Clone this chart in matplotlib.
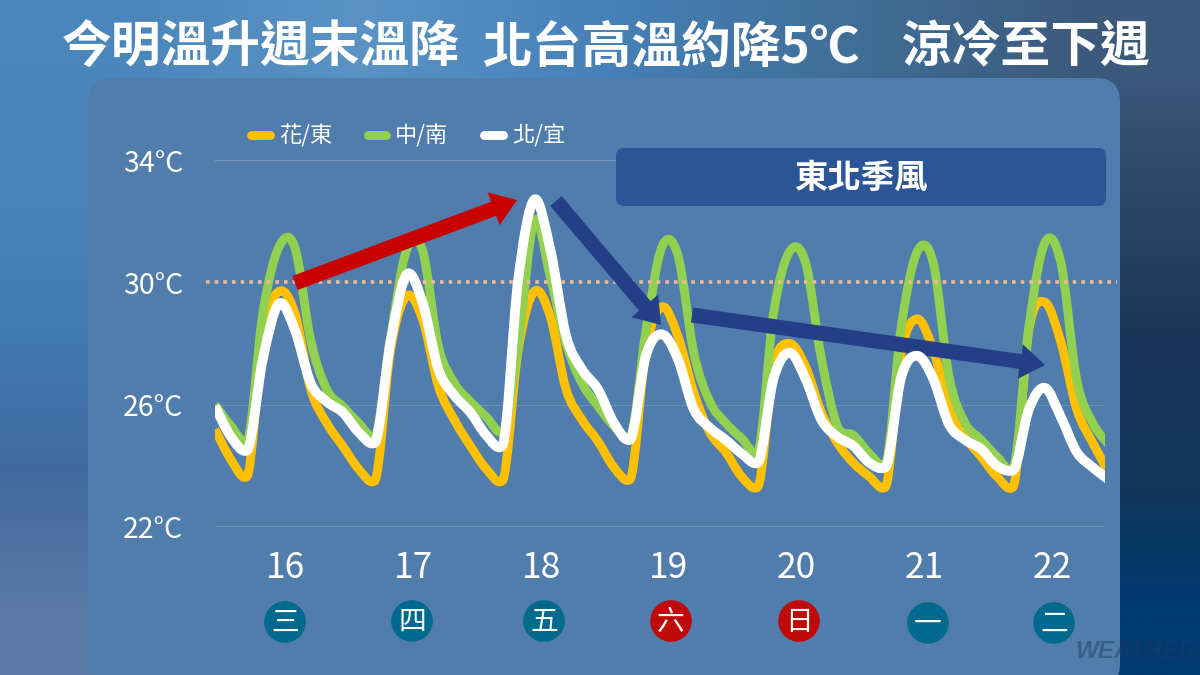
import numpy as np
import matplotlib
matplotlib.use("Agg")
import matplotlib.pyplot as plt
from matplotlib.colors import to_rgb
from matplotlib.patches import Circle, FancyBboxPatch, PathPatch, Polygon
from matplotlib.path import Path
from matplotlib.lines import Line2D

plt.rcParams['font.family'] = ['Noto Sans CJK TC', 'DejaVu Sans']

title_parts = ['今明溫升週末溫降', '北台高溫約降5℃', '涼冷至下週']
days = [16, 17, 18, 19, 20, 21, 22]
weekdays = ['三', '四', '五', '六', '日', '一', '二']
weekend = ['六', '日']
y_ticks = [22, 26, 30, 34]
first_sample_day = 15.444
samples_per_day = 8

hua_dong = [25.2, 24.2, 23.65, 28.3, 29.7, 29.0, 26.5, 25.4, 24.65, 23.9, 23.5,
            27.8, 29.55, 28.8, 26.6, 25.5, 24.65, 23.9, 23.5,
            27.8, 29.7, 28.9, 26.5, 25.5, 24.8, 23.95, 23.55,
            27.8, 29.2, 28.25, 26.4, 25.1, 24.45, 23.65, 23.3,
            27.25, 28.0, 27.25, 25.75, 24.75, 24.1, 23.65, 23.3,
            27.7, 28.8, 27.8, 25.95, 24.95, 24.3, 23.65, 23.3,
            28.45, 29.35, 28.05, 25.85, 24.75, 23.8]
zhong_nan = [26.0, 25.3, 24.8, 29.0, 31.15, 31.15, 28.1, 26.5, 25.95, 25.4, 24.95,
             28.2, 31.05, 31.05, 27.9, 26.7, 26.1, 25.6, 25.1,
             28.0, 32.0, 30.2, 28.0, 26.7, 25.95, 25.3, 24.95,
             28.4, 31.15, 30.9, 27.7, 26.1, 25.4, 24.9, 24.45,
             29.0, 31.0, 30.65, 27.5, 25.3, 25.0, 24.4, 24.05,
             28.55, 31.0, 30.65, 26.9, 25.4, 24.85, 24.3, 23.9,
             28.55, 31.3, 30.65, 26.8, 25.4, 24.7]
bei_yi = [25.95, 24.95, 24.5, 27.5, 29.3, 28.45, 26.7, 26.1, 25.75, 25.1, 24.75,
          28.05, 30.25, 29.35, 27.15, 26.3, 25.75, 25.0, 24.65,
          30.1, 32.7, 31.1, 28.25, 27.15, 26.5, 25.4, 24.85,
          27.6, 28.3, 27.5, 25.85, 25.25, 24.85, 24.4, 24.1,
          26.85, 27.7, 26.85, 25.5, 24.95, 24.65, 24.1, 23.95,
          26.9, 27.6, 26.85, 25.35, 24.85, 24.55, 24.0, 23.85,
          25.85, 26.55, 25.6, 24.45, 23.95, 23.55]

W, H = 1200, 675
fig = plt.figure(figsize=(12, 6.75), dpi=100)

# background in pixel coordinates
bg = fig.add_axes([0, 0, 1, 1], zorder=0)
bg.axis('off')
corner_colors = [
    ['#4a86bb', '#5a93c4', '#4681b8', '#407099', '#3c5a7c'],
    ['#4984ba', '#4a85bb', '#4277ac', '#2e4f78', '#2a4565'],
    ['#417ab0', '#3f78ae', '#3a6c9e', '#28507c', '#1b3758'],
    ['#406a9e', '#3c6a9e', '#305f92', '#1c4a78', '#123658'],
    ['#5a79a8', '#4a74a4', '#2e5c90', '#104474', '#003a70'],
]
grid = np.array([[to_rgb(c) for c in row] for row in corner_colors])
bg.imshow(grid, extent=(0, W, H, 0), aspect='auto', interpolation='bilinear')
bg.set_xlim(0, W)
bg.set_ylim(H, 0)
bg.add_patch(FancyBboxPatch((88 + 24, 78 + 24), 1032 - 48, 562,
                            boxstyle='round,pad=24,rounding_size=24',
                            fc='#517dad', ec='none'))

for x0, part in zip([62, 482, 902], title_parts):
    bg.text(x0, 48, part, color='white', fontsize=35.8, fontweight='bold',
            ha='left', va='center')

# main chart
ax = fig.add_axes([215 / W, 1 - 527 / H, 890 / W, 367 / H], zorder=1)
ax.patch.set_alpha(0)
ax.set_xlim(first_sample_day, first_sample_day + 890 / 127.67)
ax.set_ylim(22, 34)
for s in ax.spines.values():
    s.set_visible(False)


def smooth_path(xs, ys):
    """Bezier path through the samples, like a spreadsheet's smoothed line."""
    pts = np.column_stack([xs, ys])
    n = len(pts)
    tangents = []
    for i in range(n):
        t = (pts[min(i + 1, n - 1)] - pts[max(i - 1, 0)]) / 6
        if 0 < i < n - 1 and pts[i, 1] < pts[i - 1, 1] and pts[i, 1] < pts[i + 1, 1]:
            t = t * np.array([1.0, 0.2])   # keep the troughs from overshooting
        tangents.append(t)
    verts = [pts[0]]
    codes = [Path.MOVETO]
    for i in range(n - 1):
        verts += [pts[i] + tangents[i], pts[i + 1] - tangents[i + 1], pts[i + 1]]
        codes += [Path.CURVE4] * 3
    return Path(verts, codes)


times = first_sample_day + np.arange(len(hua_dong)) / samples_per_day
series = [('花/東', hua_dong, '#ffc000', 6.4, 4),
          ('中/南', zhong_nan, '#92d050', 6.4, 5),
          ('北/宜', bei_yi, '#ffffff', 7.0, 9)]
handles = []
for label, vals, col, lw, z in series:
    ax.add_patch(PathPatch(smooth_path(times, vals), fill=False, ec=col, lw=lw,
                           capstyle='butt', joinstyle='round', zorder=z))
    handles.append(Line2D([], [], color=col, lw=6.4, solid_capstyle='round', label=label))

ax.axhline(34, color='white', alpha=0.2, lw=0.8, zorder=1)
ax.axhline(26, color='white', alpha=0.15, lw=0.8, zorder=1)
ax.axhline(22, color='white', alpha=0.9, lw=1.0, zorder=1)
ax.axhline(30, xmin=-0.0101, xmax=1.0135, color='#eeb995', lw=2.6,
           linestyle=(0, (1, 1.4)), clip_on=False, zorder=6)

ax.set_xticks(days)
ax.set_xticklabels([str(d) for d in days], color='white', fontsize=25.5)
ax.set_yticks(y_ticks)
ax.set_yticklabels([f'{t}°C' for t in y_ticks], color='white', fontsize=20.5)
ax.tick_params(axis='x', length=0, pad=16.5)
ax.tick_params(axis='y', length=0, pad=23)

leg = ax.legend(handles=handles, ncol=3, frameon=False, loc='upper left',
                bbox_to_anchor=(251 / W, 1 - 124 / H), bbox_transform=fig.transFigure,
                fontsize=16, borderpad=0, borderaxespad=0, handlelength=0.85,
                handletextpad=0.4, columnspacing=1.6, labelcolor='white')
leg.set_zorder(20)

px = bg.transData
# annotation box
ax.add_patch(FancyBboxPatch((616 + 8, 148 + 8), 490 - 16, 58 - 16,
                            boxstyle='round,pad=8,rounding_size=8', fc='#2c5597',
                            ec='none', transform=px, clip_on=False, zorder=3))
ax.text(861, 178, '東北季風', color='white', fontsize=24, fontweight='bold',
        ha='center', va='center', transform=px, zorder=10)


def arrow(tail, tip, color, body=15, head_w=35, head_l=25):
    t = np.array(tail, float)
    h = np.array(tip, float)
    d = (h - t) / np.hypot(*(h - t))
    n = np.array([-d[1], d[0]])
    b = h - d * head_l
    poly = [t + n * body / 2, b + n * body / 2, b + n * head_w / 2, h,
            b - n * head_w / 2, b - n * body / 2, t - n * body / 2]
    ax.add_patch(Polygon(poly, closed=True, fc=color, ec='none', transform=px,
                         clip_on=False, zorder=8))


arrow((295, 283), (517, 200), '#c90000')
arrow((556, 201), (661, 325), '#243f88')
arrow((692, 315), (1045, 365), '#243f88')

# weekday badges
centers_x = [285, 412, 544, 671, 799, 928, 1054]
centers_y = [622, 621, 621, 621, 621, 623, 623]
for cx, cy, wd in zip(centers_x, centers_y, weekdays):
    col = '#bf0a0a' if wd in weekend else '#006a8e'
    bg.add_patch(Circle((cx, cy), 20.8, fc=col, ec='none'))
    bg.text(cx, cy + 1, wd, color='white', fontsize=20, ha='center', va='center')

fig.text(1075 / W, 1 - 658 / H, 'WEATHER', family='Liberation Sans', fontweight='bold',
         style='italic', fontsize=17.5, color='#1f3a63', alpha=0.45, zorder=30)

fig.savefig('out.png', dpi=100)
